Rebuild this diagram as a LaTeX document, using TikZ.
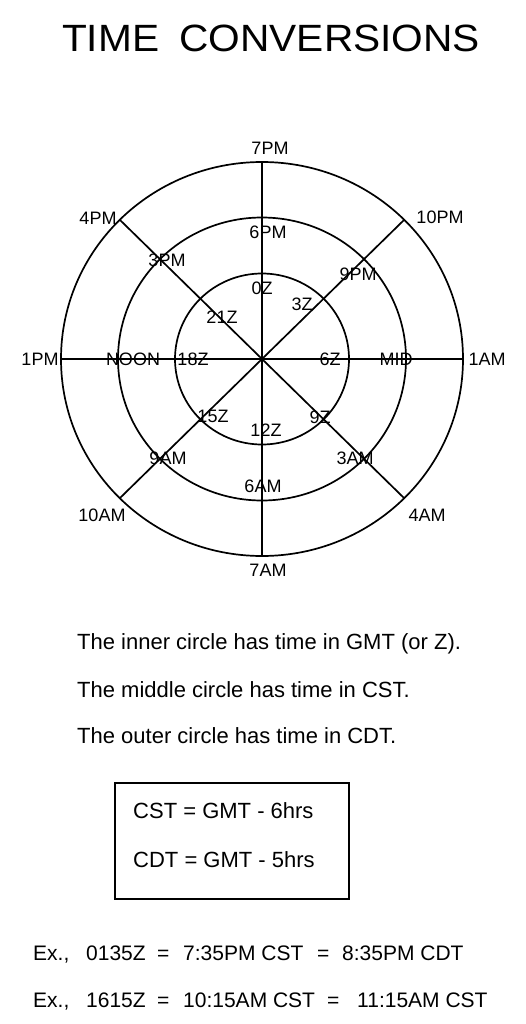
\documentclass[tikz,border=0pt]{standalone}
\usepackage{fontspec}
\setmainfont{Liberation Sans}
\newcommand\labfont{\fontsize{18}{18}\selectfont}
\newcommand\bodyfont{\fontsize{22}{22}\selectfont}
\newcommand\exfont{\fontsize{21}{21}\selectfont}
\newcommand\titlefont{\fontsize{38}{38}\selectfont}
\begin{document}
\begin{tikzpicture}[x=1pt,y=-1pt,
  lab/.style={font=\labfont, inner sep=0pt, anchor=center},
  body/.style={font=\bodyfont, inner sep=0pt, anchor=base west},
  ex/.style={font=\exfont, inner sep=0pt, anchor=base west},
  ring/.style={line width=1.7pt},
  spoke/.style={line width=1.7pt}]
\useasboundingbox (0,0) rectangle (526,1024);
% title
\node[inner sep=0pt, anchor=base] (title) at (271,52) {\titlefont\scalebox{1.07}[1]{TIME\hspace{0.5em}CONVERSIONS}};
% rings
\coordinate (c) at (262,359);
\draw[ring] (c) ellipse [x radius=201, y radius=197];
\draw[ring] (c) ellipse [x radius=144, y radius=141.5];
\draw[ring] (c) ellipse [x radius=87, y radius=85.5];
% spoke ends
\coordinate (eN) at (262,162);
\coordinate (eS) at (262,556);
\coordinate (eW) at (61,359);
\coordinate (eE) at (463,359);
\coordinate (eNW) at (120,220);
\coordinate (eNE) at (404,220);
\coordinate (eSW) at (120,498);
\coordinate (eSE) at (404,498);
\draw[spoke] (eN) -- (eS);
\draw[spoke] (eW) -- (eE);
\draw[spoke] (eNW) -- (eSE);
\draw[spoke] (eNE) -- (eSW);
% outer labels
\node[lab] (l7pm) at (270,148) {7PM};
\node[lab] (l4pm) at (98,218) {4PM};
\node[lab] (l10pm) at (440,217) {10PM};
\node[lab] (l1pm) at (40,359) {1PM};
\node[lab] (l1am) at (487,359) {1AM};
\node[lab] (l10am) at (102,515) {10AM};
\node[lab] (l4am) at (427,515) {4AM};
\node[lab] (l7am) at (268,570) {7AM};
% middle labels
\node[lab] (l6pm) at (268,232) {6PM};
\node[lab] (l3pm) at (167,260) {3PM};
\node[lab] (l9pm) at (358,274) {9PM};
\node[lab] (lnoon) at (133,359) {NOON};
\node[lab] (lmid) at (396,359) {MID};
\node[lab] (l9am) at (168,458) {9AM};
\node[lab] (l3am) at (355,458) {3AM};
\node[lab] (l6am) at (263,486) {6AM};
% inner labels
\node[lab] (l0z) at (262,288) {0Z};
\node[lab] (l3z) at (302,304) {3Z};
\node[lab] (l21z) at (222,317) {21Z};
\node[lab] (l18z) at (193,359) {18Z};
\node[lab] (l6z) at (330,359) {6Z};
\node[lab] (l15z) at (213,416) {15Z};
\node[lab] (l12z) at (266,430) {12Z};
\node[lab] (l9z) at (320,417) {9Z};
% explanation
\node[body] (t1) at (77,649) {The inner circle has time in GMT (or Z).};
\node[body] (t2) at (77,697) {The middle circle has time in CST.};
\node[body] (t3) at (77,743) {The outer circle has time in CDT.};
% box
\draw[line width=2.2pt] (115,783) rectangle (349,899);
\node[body] (b1) at (133,818) {CST = GMT - 6hrs};
\node[body] (b2) at (133,867) {CDT = GMT - 5hrs};
% examples
\node[ex] (e1a) at (33,960) {Ex.,};
\node[ex] (e1b) at (86,960) {0135Z};
\node[ex] (e1c) at (157,960) {=};
\node[ex] (e1d) at (183,960) {7:35PM CST};
\node[ex] (e1e) at (317,960) {=};
\node[ex] (e1f) at (342,960) {8:35PM CDT};
\node[ex] (e2a) at (33,1007) {Ex.,};
\node[ex] (e2b) at (86,1007) {1615Z};
\node[ex] (e2c) at (157,1007) {=};
\node[ex] (e2d) at (183,1007) {10:15AM CST};
\node[ex] (e2e) at (327,1007) {=};
\node[ex] (e2f) at (357,1007) {11:15AM CST};
\end{tikzpicture}
\end{document}
